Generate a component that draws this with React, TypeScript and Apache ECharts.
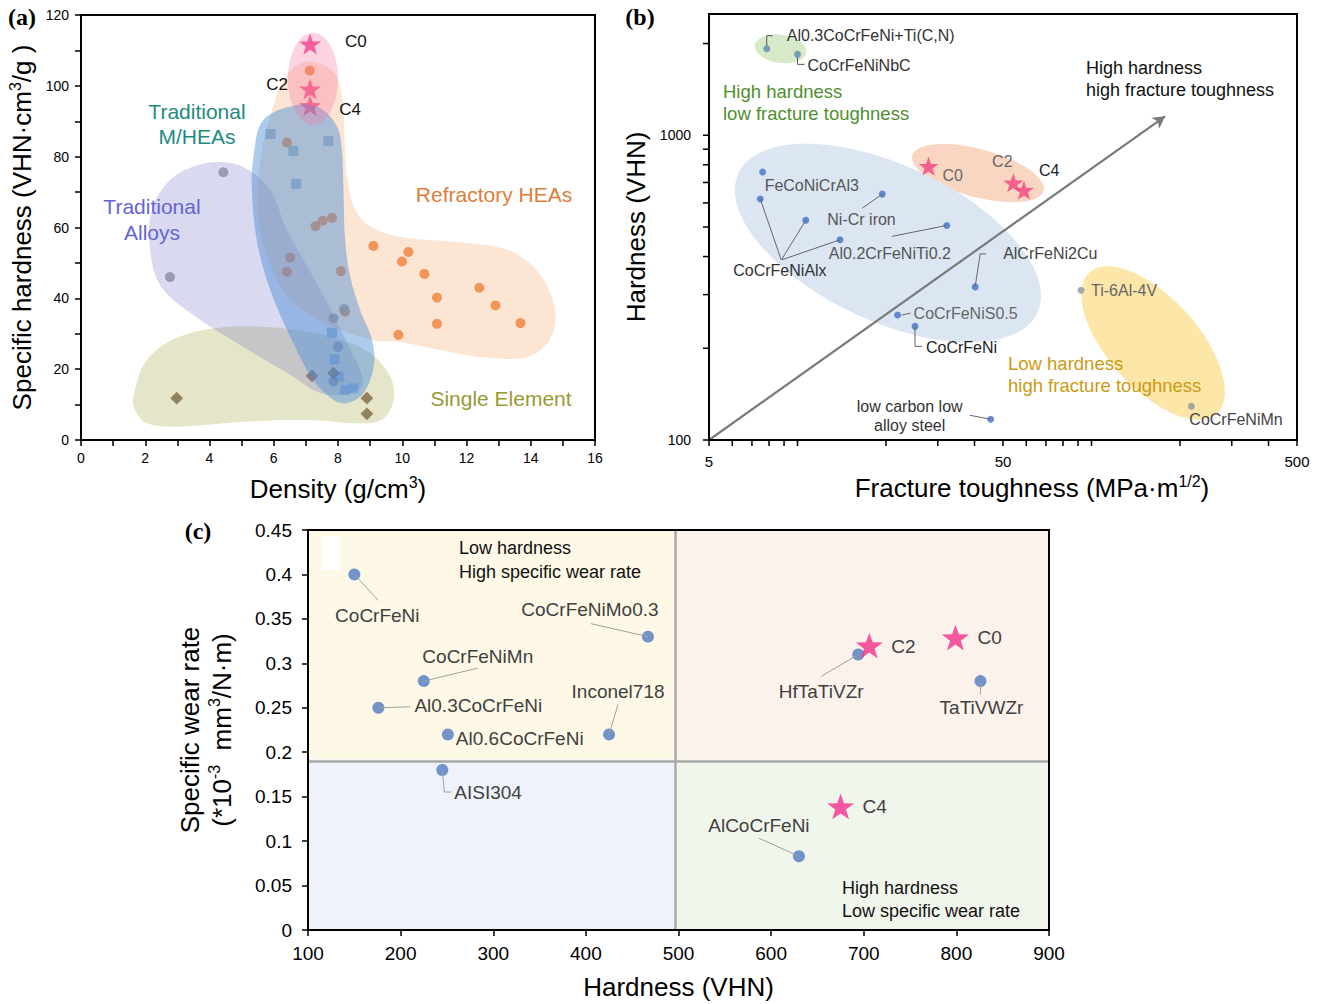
import React, { useEffect, useRef } from 'react';
import * as echarts from 'echarts';

const FONT = '"Liberation Sans", Arial, Helvetica, sans-serif';
const SERIF = '"Liberation Serif", "Times New Roman", serif';
const STAR = 'path://M0,-50 L11.76,-16.18 L47.55,-15.45 L19.02,6.18 L29.39,40.45 L0,20 L-29.39,40.45 L-19.02,6.18 L-47.55,-15.45 L-11.76,-16.18 Z';

// ================= Panel (a): specific hardness vs density =================
const aRefractoryHEAs: number[][] = [
  [9.1, 54.8], [10.19, 53.1], [9.99, 50.4], [10.69, 46.9], [12.4, 43.0], [11.08, 40.2], [12.9, 38.0],
  [11.08, 32.8], [13.68, 33.0], [9.88, 29.7], [8.09, 47.7], [8.22, 36.2], [7.3, 60.4], [7.52, 61.9],
  [7.81, 62.7], [6.41, 84.0], [7.12, 104.3], [6.51, 51.5], [6.41, 47.5],
];
const aTraditionalMHEAs: number[][] = [
  [5.9, 86.4], [6.61, 81.6], [7.7, 84.4], [6.7, 72.3], [7.81, 30.3], [7.89, 22.8], [8.02, 17.9], [8.22, 14.1], [8.48, 14.6],
];
const aTraditionalAlloys: number[][] = [
  [4.43, 75.6], [2.77, 46.0], [8.19, 37.0], [7.86, 34.4], [8.0, 26.3], [7.86, 16.5],
];
const aSingleElement: number[][] = [
  [2.98, 11.8], [7.19, 18.1], [7.86, 18.9], [8.9, 11.8], [8.9, 7.4],
];
const aStarNames = ['C0', 'C2', 'C4'];
const aStarDensity = [7.13, 7.13, 7.13];
const aStarHardness = [111.8, 99.1, 94.4];

// group outlines (data coordinates)
const aBlobSingleElement: number[][] = [
  [1.63, 12.2], [2.05, 22.6], [3.08, 29.2], [4.64, 32.0], [6.2, 31.6], [7.76, 29.2], [9.0, 24.5], [9.63, 17.9],
  [9.73, 11.3], [9.42, 6.1], [8.79, 4.7], [7.24, 5.6], [5.16, 5.2], [3.08, 3.8], [2.05, 4.7], [1.68, 8.5],
];
const aBlobTraditionalAlloys: number[][] = [
  [4.33, 78.5], [5.11, 76.8], [5.89, 70.6], [6.41, 59.3], [7.45, 42.4], [8.28, 27.4], [8.79, 16.1], [8.38, 13.3],
  [7.45, 13.3], [6.51, 18.4], [4.95, 26.8], [3.4, 35.9], [2.46, 43.8], [2.15, 53.7], [2.21, 65.0], [2.77, 73.4], [3.55, 77.4],
];
const aBlobRefractory: number[][] = [
  [6.98, 106.8], [7.85, 104.0], [8.13, 96.0], [8.22, 81.9], [8.32, 72.0], [8.57, 64.4], [9.07, 59.9], [9.94, 57.3],
  [12.02, 55.6], [13.27, 53.7], [14.08, 48.9], [14.61, 41.5], [14.77, 33.9], [14.52, 27.4], [13.89, 23.4], [12.65, 23.2],
  [11.18, 25.4], [9.94, 27.7], [9.1, 28.2], [7.45, 33.6], [6.42, 40.7], [5.73, 53.7], [5.48, 66.4], [5.64, 81.9],
  [5.95, 93.2], [6.36, 102.3],
];
const aBlobMHEA: number[][] = [
  [6.72, 94.6], [5.68, 90.4], [5.37, 80.0], [5.32, 70.6], [5.47, 56.5], [5.89, 42.4], [6.61, 27.3], [7.24, 16.9],
  [7.86, 11.3], [8.28, 10.4], [8.79, 13.2], [9.11, 20.7], [9.06, 28.2], [8.69, 36.7], [8.38, 46.1], [8.22, 56.5],
  [8.17, 70.6], [8.12, 81.9], [7.97, 88.5], [7.45, 93.7],
];
const aEllipseStarsCenter = [7.22, 102];
const aEllipseStarsRadii = [0.78, 13];

// ================= Panel (b): hardness vs fracture toughness =================
const bCoatedNames = ['Al0.3CoCrFeNi+Ti(C,N)', 'CoCrFeNiNbC'];
const bCoatedToughness = [7.86, 10.0];
const bCoatedHardness = [1924, 1843];

const bAlloyNames = ['FeCoNiCrAl3', 'CoCrFeNiAlx', 'CoCrFeNiAlx', 'CoCrFeNiAlx', 'Ni-Cr iron', 'Al0.2CrFeNiTi0.2',
  'AlCrFeNi2Cu', 'CoCrFeNiS0.5', 'CoCrFeNi', 'low carbon low\nalloy steel'];
const bAlloyToughness = [7.61, 7.47, 10.67, 13.95, 19.43, 32.2, 40.2, 21.9, 25.1, 45.4];
const bAlloyHardness = [758, 618, 526, 454, 641, 506, 318, 257, 236, 117];

const bToughNames = ['Ti-6Al-4V', 'CoCrFeNiMn'];
const bToughToughness = [92.1, 218.6];
const bToughHardness = [310, 129];

const bStarNames = ['C0', 'C2', 'C4'];
const bStarToughness = [27.9, 54.2, 58.9];
const bStarHardness = [791, 698, 660];

const bEllipseCenters: number[][] = [[8.75, 1921], [41.1, 751], [20.3, 443], [162, 208]];
const bArrowFrom = [5, 100];
const bArrowTo = [178, 1154];

const bXTickValues = [5, 6, 7, 8, 9, 10, 20, 30, 40, 50, 60, 70, 80, 90, 100, 200, 300, 400, 500];
const bXTickLabels = ['5', '50', '500'];
const bYTickValues = [100, 200, 300, 400, 500, 600, 700, 800, 900, 1000, 2000];
const bYTickLabels = ['100', '1000'];

// ================= Panel (c): specific wear rate vs hardness =================
const cNames = ['CoCrFeNi', 'CoCrFeNiMo0.3', 'CoCrFeNiMn', 'Al0.3CoCrFeNi', 'Al0.6CoCrFeNi', 'Inconel718',
  'AISI304', 'HfTaTiVZr', 'TaTiVWZr', 'AlCoCrFeNi'];
const cHardness = [150, 467, 225, 176, 251, 425, 245, 694, 826, 630];
const cWearRate = [0.40, 0.33, 0.28, 0.25, 0.22, 0.22, 0.18, 0.31, 0.28, 0.083];
const cStarNames = ['C0', 'C2', 'C4'];
const cStarHardness = [799, 706, 675];
const cStarWearRate = [0.329, 0.32, 0.139];
const cSplitHardness = 497;
const cSplitWear = 0.192;

// ---------------- layout / style (kept apart from data) ----------------
const aStarLbl = [
  { dx: 35, dy: -3, align: 'left' },
  { dx: -33, dy: -5, align: 'center' },
  { dx: 40, dy: 4, align: 'center' },
];
const bCoatedLbl = [
  { dx: 20, dy: -13, align: 'left', color: '#333', lead: [[0, -3], [0, -13], [6, -13]] },
  { dx: 10, dy: 11, align: 'left', color: '#333', lead: [[0, 3], [0, 10], [7, 10]] },
];
const bAlloyLbl = [
  { dx: 2, dy: 14, align: 'left', color: '#555' },
  { dx: -27, dy: 72, align: 'left', color: '#333', lead: [[0, 0], [21, 61]] },
  { noText: true, lead: [[0, 0], [-24, 39]] },
  { noText: true, lead: [[0, 0], [-58, 20]] },
  { dx: -55, dy: 25, align: 'left', color: '#555', lead: [[0, 0], [-20, 14]] },
  { dx: -118, dy: 28, align: 'left', color: '#555', lead: [[0, 0], [-55, 11]] },
  { dx: 28, dy: -33, align: 'left', color: '#444', lead: [[0, 0], [5, -33], [11, -33]] },
  { dx: 16, dy: -2, align: 'left', color: '#666', lead: [[4, 0], [13, -2]] },
  { dx: 11, dy: 21, align: 'left', color: '#222', lead: [[0, 0], [0, 20], [7, 20]] },
  { dx: -81, dy: -3, align: 'center', color: '#333', lead: [[-21, -4], [0, 0]] },
];
const bToughLbl = [
  { dx: 10, dy: 0, align: 'left', color: '#666' },
  { dx: -2, dy: 13, align: 'left', color: '#444' },
];
const bStarLbl = [
  { dx: 14, dy: 9, align: 'left', color: '#666' },
  { dx: -11, dy: -21, align: 'center', color: '#666' },
  { dx: 15, dy: -20, align: 'left', color: '#222' },
];
const bEllipseStyle = [
  { rx: 26, ry: 14, rot: 8, color: '#D6EACA' },
  { rx: 68, ry: 24, rot: 15, color: '#F9D6C1' },
  { rx: 165, ry: 78, rot: 25, color: '#DCE6F3' },
  { rx: 95, ry: 45, rot: 48, color: '#FCE6A8' },
];
const cLbl = [
  { dx: 23, dy: 41, align: 'center', lead: [[0, 0], [24, 26]] },
  { dx: -58, dy: -27, align: 'center', lead: [[0, 0], [-57, -13]] },
  { dx: 54, dy: -25, align: 'center', lead: [[0, 0], [54, -13]] },
  { dx: 36, dy: -2, align: 'left', lead: [[0, 0], [32, -1]] },
  { dx: 8, dy: 4, align: 'left' },
  { dx: 9, dy: -43, align: 'center', lead: [[0, 0], [9, -30]] },
  { dx: 12, dy: 22, align: 'left', lead: [[0, 0], [2, 22], [9, 22]] },
  { dx: -37, dy: 37, align: 'center', lead: [[0, 0], [-37, 22]] },
  { dx: 1, dy: 26, align: 'center', lead: [[0, 0], [0, 13]] },
  { dx: -40, dy: -31, align: 'center', lead: [[0, 0], [-40, -18]] },
];
const cStarLbl = [
  { dx: 22, dy: 0, align: 'left' },
  { dx: 22, dy: 1, align: 'left' },
  { dx: 22, dy: 0, align: 'left' },
];

const zip = (xs: number[], ys: number[]) => xs.map((x, i) => [x, ys[i]]);

function txtStyle(text: string, fill: string, size: number, align: string, vAlign = 'middle', family = FONT, weight = 'normal', lh?: number) {
  return {
    text, fill, fontSize: size, fontFamily: family, fontWeight: weight,
    align, textAlign: align, verticalAlign: vAlign, textVerticalAlign: vAlign,
    lineHeight: lh || Math.round(size * 1.2),
  };
}

function annotSeries(gi: number, pts: number[][], names: string[], lays: any[], size: number, color: string, leadColor: string) {
  return {
    type: 'custom', xAxisIndex: gi, yAxisIndex: gi, z: 8, silent: true, clip: false,
    data: pts,
    renderItem: (params: any, api: any) => {
      const L = lays[params.dataIndex] || {};
      const p = api.coord([api.value(0), api.value(1)]);
      const ch: any[] = [];
      if (L.lead) {
        ch.push({
          type: 'polyline',
          shape: { points: L.lead.map((q: number[]) => [p[0] + q[0], p[1] + q[1]]) },
          style: { stroke: leadColor, lineWidth: 1, fill: 'none' },
        });
      }
      if (!L.noText) {
        ch.push({
          type: 'text', x: p[0] + L.dx, y: p[1] + L.dy,
          style: txtStyle(names[params.dataIndex], L.color || color, size, L.align || 'left'),
        });
      }
      return { type: 'group', children: ch };
    },
  };
}

const nameRich = {
  t: { fontSize: 26, fontFamily: FONT, color: '#000', lineHeight: 30 },
  s: { fontSize: 16, fontFamily: FONT, color: '#000', lineHeight: 16, verticalAlign: 'top' },
};

const axisLineStyle = { show: true, onZero: false, lineStyle: { color: '#000', width: 2 } };
const tickStyle = { show: true, inside: false, length: 6, lineStyle: { color: '#000', width: 1.5 } };

function buildOption(): any {
  const aBlobsUnder = [{ pts: aBlobSingleElement, color: 'rgba(160,160,60,0.27)' }];
  const aBlobsOver = [
    { pts: aBlobTraditionalAlloys, color: 'rgba(120,120,200,0.28)' },
    { pts: aBlobRefractory, color: 'rgba(245,150,80,0.25)' },
    { pts: aBlobMHEA, color: 'rgba(70,140,215,0.45)' },
  ];
  const blobSeries = (blobs: any[], z: number, withEllipse: boolean) => ({
    type: 'custom', xAxisIndex: 0, yAxisIndex: 0, z, silent: true, clip: false,
    data: blobs.map((b) => b.pts[0]).concat(withEllipse ? [aEllipseStarsCenter] : []),
    renderItem: (params: any, api: any) => {
      const i = params.dataIndex;
      if (i >= blobs.length) {
        const c = api.coord(aEllipseStarsCenter);
        const s = api.size(aEllipseStarsRadii);
        return { type: 'ellipse', shape: { cx: c[0], cy: c[1], rx: s[0], ry: s[1] }, style: { fill: 'rgba(245,110,160,0.3)' } };
      }
      const pts = blobs[i].pts.map((q: number[]) => api.coord(q));
      return { type: 'polygon', shape: { points: pts, smooth: 0.35 }, style: { fill: blobs[i].color } };
    },
  });

  const bTicksX = {
    type: 'custom', xAxisIndex: 1, yAxisIndex: 1, z: 10, silent: true, clip: false,
    data: bXTickValues.map((v) => [v, bYTickValues[0]]),
    renderItem: (params: any, api: any) => {
      const v = api.value(0);
      const p = api.coord([v, api.value(1)]);
      const ch: any[] = [{ type: 'line', shape: { x1: p[0], y1: p[1], x2: p[0], y2: p[1] + 6 }, style: { stroke: '#000', lineWidth: 1.5 } }];
      if (bXTickLabels.indexOf(String(v)) >= 0) {
        ch.push({ type: 'text', x: p[0], y: p[1] + 12, style: txtStyle(String(v), '#000', 15, 'center', 'top') });
      }
      return { type: 'group', children: ch };
    },
  };
  const bTicksY = {
    type: 'custom', xAxisIndex: 1, yAxisIndex: 1, z: 10, silent: true, clip: false,
    data: bYTickValues.map((v) => [bXTickValues[0], v]),
    renderItem: (params: any, api: any) => {
      const v = api.value(1);
      const p = api.coord([api.value(0), v]);
      const ch: any[] = [{ type: 'line', shape: { x1: p[0] - 6, y1: p[1], x2: p[0], y2: p[1] }, style: { stroke: '#000', lineWidth: 1.5 } }];
      if (bYTickLabels.indexOf(String(v)) >= 0) {
        ch.push({ type: 'text', x: p[0] - 18, y: p[1], style: txtStyle(String(v), '#000', 14, 'right', 'middle') });
      }
      return { type: 'group', children: ch };
    },
  };
  const bEllipses = {
    type: 'custom', xAxisIndex: 1, yAxisIndex: 1, z: 1, silent: true, clip: false,
    data: bEllipseCenters,
    renderItem: (params: any, api: any) => {
      const st = bEllipseStyle[params.dataIndex];
      const p = api.coord([api.value(0), api.value(1)]);
      return {
        type: 'ellipse', x: p[0], y: p[1], rotation: -st.rot * Math.PI / 180,
        shape: { cx: 0, cy: 0, rx: st.rx, ry: st.ry }, style: { fill: st.color },
      };
    },
  };

  const gText = (x: number, y: number, text: string, fill: string, size: number, align = 'left', family = FONT, weight = 'normal', lh?: number) => ({
    type: 'text', x, y, z: 100, silent: true, style: txtStyle(text, fill, size, align, 'middle', family, weight, lh),
  });

  return {
    animation: false,
    backgroundColor: '#fff',
    textStyle: { fontFamily: FONT },
    grid: [
      { left: 81, top: 15, width: 514, height: 425, show: true, borderColor: '#000', borderWidth: 2, z: 10 },
      { left: 709, top: 14, width: 588, height: 426, show: true, borderColor: '#000', borderWidth: 2, z: 10 },
      { left: 308, top: 530, width: 741, height: 400, show: true, borderColor: '#000', borderWidth: 2, z: 10 },
    ],
    xAxis: [
      {
        gridIndex: 0, type: 'value', min: 0, max: 16, interval: 2, z: 10,
        axisLine: axisLineStyle, axisTick: tickStyle,
        minorTick: { show: true, splitNumber: 2, length: 6, lineStyle: { color: '#000', width: 1.5 } },
        splitLine: { show: false },
        axisLabel: { fontSize: 14, color: '#000', margin: 11, fontFamily: FONT },
        name: '{t|Density (g/cm}{s|3}{t|)}', nameLocation: 'middle', nameGap: 34, nameTextStyle: { rich: nameRich },
      },
      {
        gridIndex: 1, type: 'log', logBase: 10, min: 5, max: 500, z: 10,
        axisLine: axisLineStyle, axisTick: { show: false }, axisLabel: { show: false }, splitLine: { show: false },
        minorTick: { show: false },
        name: '{t|Fracture toughness (MPa·m}{s|1/2}{t|)}', nameLocation: 'middle', nameGap: 33,
        nameTextStyle: { rich: nameRich, padding: [0, 0, 0, 58] },
      },
      {
        gridIndex: 2, type: 'value', min: 100, max: 900, interval: 100, z: 10,
        axisLine: axisLineStyle, axisTick: tickStyle, splitLine: { show: false },
        axisLabel: { fontSize: 19, color: '#000', margin: 14, fontFamily: FONT },
        name: '{t|Hardness (VHN)}', nameLocation: 'middle', nameGap: 42, nameTextStyle: { rich: nameRich },
      },
    ],
    yAxis: [
      {
        gridIndex: 0, type: 'value', min: 0, max: 120, interval: 20, z: 10,
        axisLine: axisLineStyle, axisTick: tickStyle,
        minorTick: { show: true, splitNumber: 2, length: 6, lineStyle: { color: '#000', width: 1.5 } },
        splitLine: { show: false },
        axisLabel: { fontSize: 14, color: '#000', margin: 12, fontFamily: FONT },
        name: '{t|Specific hardness (VHN·cm}{s|3}{t|/g )}', nameLocation: 'middle', nameGap: 44, nameRotate: 90,
        nameTextStyle: { rich: nameRich },
      },
      {
        gridIndex: 1, type: 'log', logBase: 10, min: 100, max: 2500, z: 10,
        axisLine: axisLineStyle, axisTick: { show: false }, axisLabel: { show: false }, splitLine: { show: false },
        minorTick: { show: false },
        name: '{t|Hardness (VHN)}', nameLocation: 'middle', nameGap: 58, nameRotate: 90, nameTextStyle: { rich: nameRich },
      },
      {
        gridIndex: 2, type: 'value', min: 0, max: 0.45, interval: 0.05, z: 10,
        axisLine: axisLineStyle, axisTick: tickStyle, splitLine: { show: false },
        axisLabel: { fontSize: 19, color: '#000', margin: 16, fontFamily: FONT },
        name: '{t|Specific wear rate}\n{t|(*10}{s|-3}{t|  mm}{s|3}{t|/N·m)}', nameLocation: 'middle', nameGap: 70, nameRotate: 90,
        nameTextStyle: { rich: { t: { fontSize: 26, fontFamily: FONT, color: '#000', lineHeight: 32 }, s: { fontSize: 16, fontFamily: FONT, color: '#000', lineHeight: 18, verticalAlign: 'top' } } },
      },
    ],
    graphic: [
      gText(22, 17, '(a)', '#000', 24, 'center', SERIF, 'bold'),
      gText(640, 17, '(b)', '#000', 24, 'center', SERIF, 'bold'),
      gText(198, 531, '(c)', '#000', 24, 'center', SERIF, 'bold'),
      gText(197, 124, 'Traditional\nM/HEAs', '#1E8A80', 21, 'center', FONT, 'normal', 25),
      gText(152, 219, 'Traditional\nAlloys', '#6464D8', 21, 'center', FONT, 'normal', 26),
      gText(494, 194, 'Refractory HEAs', '#E07B39', 21, 'center'),
      gText(501, 398, 'Single Element', '#9A9A32', 21, 'center'),
      gText(1086, 79, 'High hardness\nhigh fracture toughness', '#111', 18, 'left', FONT, 'normal', 22),
      gText(723, 102, 'High hardness\nlow fracture toughness', '#4F8F2E', 18.5, 'left', FONT, 'normal', 22),
      gText(1008, 374, 'Low hardness\nhigh fracture toughness', '#CC9A12', 18.5, 'left', FONT, 'normal', 22),
      gText(459, 560, 'Low hardness\nHigh specific wear rate', '#111', 18, 'left', FONT, 'normal', 24),
      gText(842, 899, 'High hardness\nLow specific wear rate', '#111', 18, 'left', FONT, 'normal', 23),
    ],
    series: [
      // ---------- (a) ----------
      blobSeries(aBlobsUnder, 1, false),
      { type: 'scatter', name: 'Refractory HEAs', xAxisIndex: 0, yAxisIndex: 0, z: 2, symbol: 'circle', symbolSize: 10, itemStyle: { color: '#EE7B35' }, data: aRefractoryHEAs },
      { type: 'scatter', name: 'Traditional M/HEAs', xAxisIndex: 0, yAxisIndex: 0, z: 2, symbol: 'rect', symbolSize: 10, itemStyle: { color: '#8EB3D2' }, data: aTraditionalMHEAs },
      { type: 'scatter', name: 'Traditional Alloys', xAxisIndex: 0, yAxisIndex: 0, z: 2, symbol: 'circle', symbolSize: 10, itemStyle: { color: '#94949C' }, data: aTraditionalAlloys },
      { type: 'scatter', name: 'Single Element', xAxisIndex: 0, yAxisIndex: 0, z: 2, symbol: 'rect', symbolRotate: 45, symbolSize: 9, itemStyle: { color: '#7E6840' }, data: aSingleElement },
      { type: 'scatter', name: 'C samples (a)', xAxisIndex: 0, yAxisIndex: 0, z: 2, symbol: STAR, symbolKeepAspect: true, symbolSize: 22, itemStyle: { color: '#F5318D' }, data: zip(aStarDensity, aStarHardness) },
      blobSeries(aBlobsOver, 3, true),
      annotSeries(0, zip(aStarDensity, aStarHardness), aStarNames, aStarLbl, 17, '#111', '#666'),

      // ---------- (b) ----------
      bEllipses,
      {
        type: 'scatter', name: 'Coated', xAxisIndex: 1, yAxisIndex: 1, z: 3, symbolSize: 7, itemStyle: { color: '#5B8AB2' },
        data: zip(bCoatedToughness, bCoatedHardness),
        markLine: {
          silent: true, symbol: ['none', 'arrow'], symbolSize: [10, 12], label: { show: false },
          lineStyle: { color: '#7A7A7A', width: 2.2, type: 'solid' },
          data: [[{ coord: bArrowFrom }, { coord: bArrowTo }]],
        },
      },
      { type: 'scatter', name: 'Alloys (b)', xAxisIndex: 1, yAxisIndex: 1, z: 3, symbolSize: 7, itemStyle: { color: '#4472C4' }, data: zip(bAlloyToughness, bAlloyHardness) },
      { type: 'scatter', name: 'Tough alloys', xAxisIndex: 1, yAxisIndex: 1, z: 3, symbolSize: 7, itemStyle: { color: '#8C979E' }, data: zip(bToughToughness, bToughHardness) },
      { type: 'scatter', name: 'C samples (b)', xAxisIndex: 1, yAxisIndex: 1, z: 3, symbol: STAR, symbolKeepAspect: true, symbolSize: 20, itemStyle: { color: '#F2417F' }, data: zip(bStarToughness, bStarHardness) },
      annotSeries(1, zip(bCoatedToughness, bCoatedHardness), bCoatedNames, bCoatedLbl, 16, '#333', '#555'),
      annotSeries(1, zip(bAlloyToughness, bAlloyHardness), bAlloyNames, bAlloyLbl, 16, '#555', '#666'),
      annotSeries(1, zip(bToughToughness, bToughHardness), bToughNames, bToughLbl, 16, '#555', '#666'),
      annotSeries(1, zip(bStarToughness, bStarHardness), bStarNames, bStarLbl, 16, '#555', '#666'),
      bTicksX,
      bTicksY,

      // ---------- (c) ----------
      {
        type: 'scatter', name: 'Alloys (c)', xAxisIndex: 2, yAxisIndex: 2, z: 3, symbolSize: 12, itemStyle: { color: '#4F7BC0' },
        data: zip(cHardness, cWearRate),
        markArea: {
          silent: true,
          data: [
            [{ xAxis: 100, yAxis: cSplitWear, itemStyle: { color: '#FEF8E6' } }, { xAxis: cSplitHardness, yAxis: 0.45 }],
            [{ xAxis: cSplitHardness, yAxis: cSplitWear, itemStyle: { color: '#FBF2EC' } }, { xAxis: 900, yAxis: 0.45 }],
            [{ xAxis: 100, yAxis: 0, itemStyle: { color: '#EEF2FA' } }, { xAxis: cSplitHardness, yAxis: cSplitWear }],
            [{ xAxis: cSplitHardness, yAxis: 0, itemStyle: { color: '#F1F6EC' } }, { xAxis: 900, yAxis: cSplitWear }],
            [{ xAxis: 115, yAxis: 0.405, itemStyle: { color: '#FFFFFF' } }, { xAxis: 134, yAxis: 0.443 }],
          ],
        },
        markLine: {
          silent: true, symbol: ['none', 'none'], label: { show: false },
          lineStyle: { color: '#A8A8A8', width: 2.5, type: 'solid' },
          data: [{ xAxis: cSplitHardness }, { yAxis: cSplitWear }],
        },
      },
      { type: 'scatter', name: 'C samples (c)', xAxisIndex: 2, yAxisIndex: 2, z: 3, symbol: STAR, symbolKeepAspect: true, symbolSize: 27, itemStyle: { color: '#F5318D' }, data: zip(cStarHardness, cStarWearRate) },
      annotSeries(2, zip(cHardness, cWearRate), cNames, cLbl, 19, '#404040', '#A0A0A0'),
      annotSeries(2, zip(cStarHardness, cStarWearRate), cStarNames, cStarLbl, 19, '#404040', '#A0A0A0'),
    ],
  };
}

export default function App() {
  const ref = useRef<HTMLDivElement>(null);
  useEffect(() => {
    if (!ref.current) return;
    const chart = echarts.init(ref.current, null, { renderer: 'svg' });
    chart.setOption(buildOption());
    return () => chart.dispose();
  }, []);
  return (
    <div
      ref={ref}
      style={{ position: 'absolute', left: 0, top: 0, width: 1322, height: 1004, background: '#fff' }}
    />
  );
}
